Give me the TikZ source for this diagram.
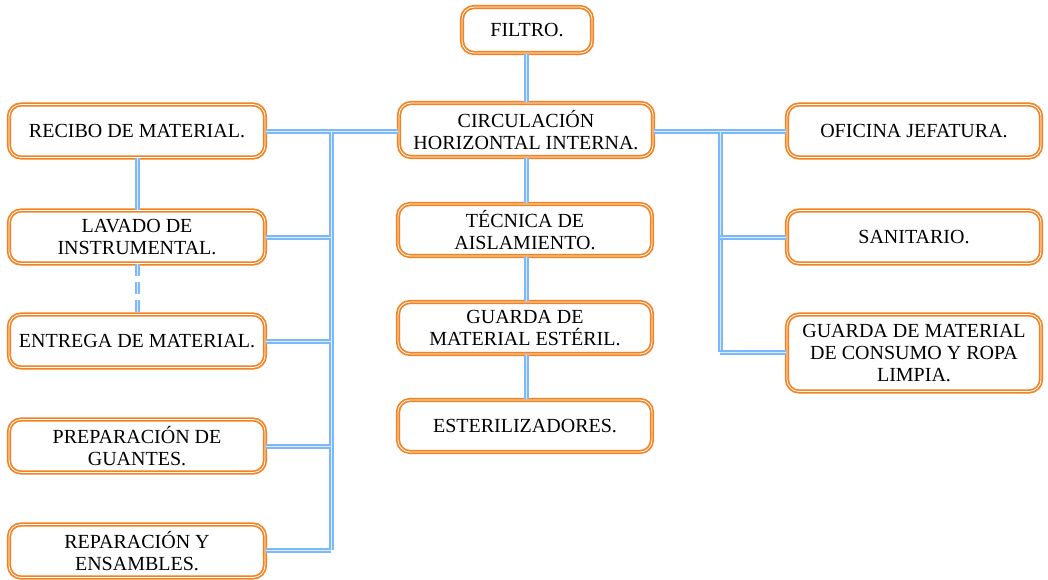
\documentclass[tikz,border=0pt]{standalone}
\usepackage{fontspec}
\setmainfont{Liberation Serif}
\definecolor{boxorange}{RGB}{245,130,32}
\definecolor{linkblue}{RGB}{125,185,250}
\begin{document}
\begin{tikzpicture}[x=1pt,y=-1pt,
  box/.style={draw=boxorange, line width=1.7pt, double=white, double distance=0.8pt,
    rounded corners=12pt, fill=white, align=center, inner sep=0pt,
    font=\fontsize{20}{22}\selectfont},
  lbox/.style={box, minimum width=256pt, minimum height=52pt},
  cbox/.style={box, minimum width=254pt, minimum height=52pt},
  conn/.style={draw=linkblue, line width=2pt, double=linkblue!30, double distance=1pt},
  dconn/.style={conn, dash pattern=on 12pt off 6pt}]
\useasboundingbox (0,0) rectangle (1048,580);
\coordinate (lb1) at (331,132);
\coordinate (lb2) at (331,237);
\coordinate (lb3) at (331,341);
\coordinate (lb4) at (331,446);
\coordinate (lb5) at (331,550);
\coordinate (rb1) at (720,132);
\coordinate (rb2) at (720,237);
\coordinate (rb3) at (720,352);
% nodes
\node[box, minimum width=130pt, minimum height=46pt] (filtro) at (527,30) {FILTRO.};
\node[cbox, minimum height=54pt] (circ) at (526,130) {CIRCULACIÓN\\HORIZONTAL INTERNA.};
\node[lbox, minimum height=53pt] (recibo) at (137,131) {RECIBO DE MATERIAL.};
\node[lbox, minimum height=53pt] (lavado) at (137,237) {LAVADO DE\\INSTRUMENTAL.};
\node[lbox, minimum height=53pt] (entrega) at (137,341) {ENTREGA DE MATERIAL.};
\node[lbox, minimum height=53pt] (prep) at (137,446) {PREPARACIÓN DE\\GUANTES.};
\node[lbox, minimum height=53pt] (repar) at (137,551) {REPARACIÓN Y\\ENSAMBLES.};
\node[cbox] (tecnica) at (525,230) {TÉCNICA DE\\AISLAMIENTO.};
\node[cbox] (guarda) at (525,328) {GUARDA DE\\MATERIAL ESTÉRIL.};
\node[cbox] (ester) at (525,426) {ESTERILIZADORES.};
\node[lbox, minimum width=254pt, minimum height=53pt] (oficina) at (914,131) {OFICINA JEFATURA.};
\node[lbox, minimum width=254pt, minimum height=53pt] (sanit) at (914,237) {SANITARIO.};
\node[lbox, minimum width=254pt, minimum height=77pt] (consumo) at (914,353) {GUARDA DE MATERIAL\\DE CONSUMO Y ROPA\\LIMPIA.};
% connectors
\draw[conn] (filtro.south -| 526,0) -- (circ.north -| 526,0);
\draw[conn] (circ.south -| 526,0) -- (tecnica.north -| 526,0);
\draw[conn] (tecnica.south -| 526,0) -- (guarda.north -| 526,0);
\draw[conn] (guarda.south -| 526,0) -- (ester.north -| 526,0);
\draw[conn] (recibo.east |- lb1) -- (circ.west |- lb1);
\draw[conn] (lb1) -- (lb5);
\draw[conn] (lavado.east |- lb2) -- (lb2);
\draw[conn] (entrega.east |- lb3) -- (lb3);
\draw[conn] (prep.east |- lb4) -- (lb4);
\draw[conn] (repar.east |- lb5) -- (lb5);
\draw[conn] (recibo.south -| 137,0) -- (lavado.north -| 137,0);
\draw[dconn] (lavado.south -| 137,0) -- (entrega.north -| 137,0);
\draw[conn] (circ.east |- rb1) -- (oficina.west |- rb1);
\draw[conn] (rb1) -- (rb3);
\draw[conn] (rb2) -- (sanit.west |- rb2);
\draw[conn] (rb3) -- (consumo.west |- rb3);
\end{tikzpicture}
\end{document}
